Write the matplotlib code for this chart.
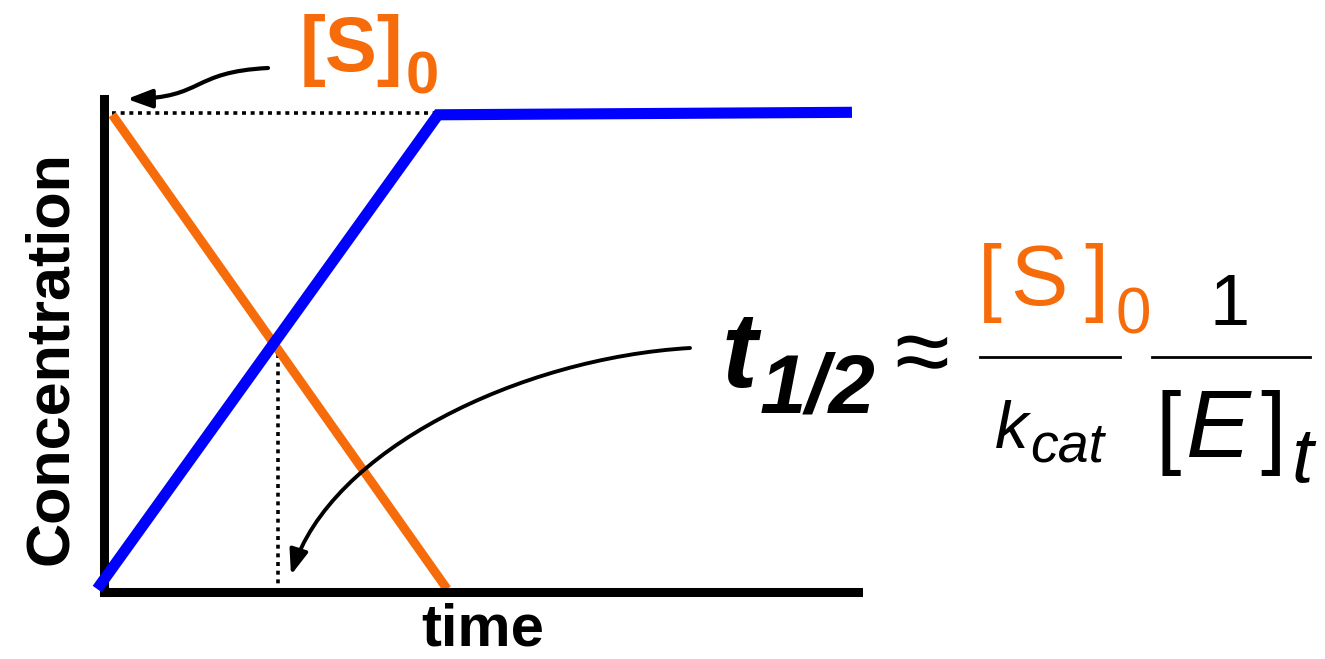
import matplotlib.pyplot as plt
from matplotlib.patches import FancyArrowPatch
from matplotlib.path import Path
from matplotlib.lines import Line2D

W, H = 1325, 659
ORANGE = '#f76c0a'
BLUE = '#0000ff'

# product (blue) and substrate (orange) vs time
time_product = [-0.9, 44.3, 99.2]
product = [0.6, 96.8, 97.3]
time_substrate = [1.1, 45.5]
substrate = [96.8, 0.6]
s0_level = 97.2      # dotted line at [S]0
t_half = 23.1        # dotted line at half time
half_level = 50.1

plt.rcParams['font.family'] = ['Liberation Sans', 'DejaVu Sans']


def fp(x, y):
    # pixel position (from top-left) -> figure fraction
    return x / W, 1 - y / H


def put(x, y, s, size, color='black', weight='normal', style='normal', **kw):
    fig.text(*fp(x, y), s, fontsize=size, color=color, fontweight=weight,
             fontstyle=style, ha=kw.pop('ha', 'left'), va=kw.pop('va', 'baseline'), **kw)


def curved_arrow(pts, lw):
    p = Path([fp(*q) for q in pts], [Path.MOVETO, Path.CURVE4, Path.CURVE4, Path.CURVE4])
    fig.patches.append(FancyArrowPatch(path=p, transform=fig.transFigure, color='black', lw=lw,
                                       arrowstyle='-|>,head_length=0.75,head_width=0.28',
                                       mutation_scale=20))


fig = plt.figure(figsize=(W / 100, H / 100), dpi=100)
ax = fig.add_axes([104 / W, 1 - 592 / H, (858 - 104) / W, (592 - 99) / H])
ax.set_xlim(0, 100)
ax.set_ylim(0, 100)

dots = dict(color='black', lw=2.6, linestyle=(0, (1.1, 1.3)), clip_on=False, zorder=1)
ax.plot([time_substrate[0], time_product[1]], [s0_level, s0_level], **dots)
ax.plot([t_half, t_half], [0, half_level], **dots)
ax.plot(time_substrate, substrate, color=ORANGE, lw=6.5, solid_capstyle='butt',
        clip_on=False, zorder=2)
ax.plot(time_product, product, color=BLUE, lw=8, solid_capstyle='butt',
        solid_joinstyle='miter', clip_on=False, zorder=3)

for side in ['top', 'right']:
    ax.spines[side].set_visible(False)
for side in ['left', 'bottom']:
    ax.spines[side].set_linewidth(6.5)
ax.set_xticks([])
ax.set_yticks([])

# axis labels
put(52, 358, 'Concentration', 44, weight='bold', rotation=90, ha='center', va='center')
put(483, 645, 'time', 43, weight='bold', ha='center')

# [S]0 label at the top
put(300, 71, '[S]', 56, color=ORANGE, weight='bold')
put(406, 93, '0', 43, color=ORANGE, weight='bold')

# curved arrows
curved_arrow([(268, 68), (190, 72), (205, 98), (127, 99)], 3)
curved_arrow([(690, 348), (520, 358), (330, 450), (291, 575)], 2.8)

# t1/2 ~ [S]0/kcat * 1/[E]t
put(722, 387, 't', 77, weight='bold', style='italic')
put(760, 412, '1/2', 60, weight='bold', style='italic')
put(922, 385, '≈', 72, ha='center')

put(978, 305, '[', 62, color=ORANGE)
put(1010, 305, 'S', 62, color=ORANGE)
put(1084, 305, ']', 62, color=ORANGE)
put(1115, 333, '0', 46, color=ORANGE)
put(995, 448, 'k', 48, style='italic')
put(1030, 462, 'cat', 40, style='italic')

put(1230, 325, '1', 52, ha='center')
put(1156, 457, '[', 66)
put(1186, 457, 'E', 70, style='italic')
put(1260, 457, ']', 66)
put(1291, 482, 't', 56, style='italic')

for x0, x1 in [(980, 1120), (1152, 1310)]:
    fig.add_artist(Line2D([x0 / W, x1 / W], [1 - 357 / H] * 2, color='black', lw=2))

fig.savefig('out.png', dpi=100)
